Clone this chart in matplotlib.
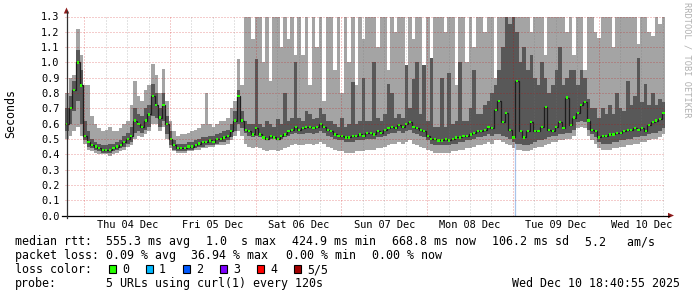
import numpy as np
import matplotlib
matplotlib.use("Agg")
import matplotlib.pyplot as plt
from matplotlib.patches import Rectangle, Polygon
from matplotlib.lines import Line2D

# ---------------- data (1-hour bins from Wed Dec 03 18:40 to Wed Dec 10 18:40) ----------------
med = [0.60,0.70,0.82,1.00,0.85,0.52,0.48,0.46,0.45,0.44,0.43,0.43,0.43,0.44,0.45,0.46,0.48,0.50,0.52,0.62,0.60,0.58,0.62,0.66,
       0.78,0.72,0.64,0.72,0.60,0.50,0.46,0.44,0.44,0.44,0.45,0.45,0.46,0.47,0.48,0.48,0.49,0.48,0.50,0.50,0.51,0.52,0.55,0.62,
       0.78,0.62,0.56,0.55,0.53,0.57,0.53,0.51,0.50,0.52,0.51,0.50,0.52,0.53,0.55,0.56,0.58,0.56,0.57,0.58,0.58,0.57,0.58,0.60,
       0.58,0.56,0.55,0.53,0.52,0.52,0.51,0.51,0.52,0.52,0.53,0.52,0.54,0.54,0.53,0.55,0.54,0.56,0.57,0.58,0.57,0.59,0.58,0.60,
       0.61,0.58,0.57,0.56,0.55,0.52,0.50,0.50,0.49,0.49,0.50,0.49,0.50,0.51,0.51,0.52,0.52,0.53,0.54,0.55,0.55,0.56,0.58,0.57,
       0.69,0.75,0.61,0.67,0.56,0.51,0.88,0.55,0.51,0.55,0.61,0.55,0.55,0.58,0.71,0.56,0.55,0.58,0.61,0.57,0.77,0.59,0.64,0.67,
       0.72,0.74,0.62,0.56,0.55,0.51,0.52,0.52,0.53,0.53,0.54,0.54,0.55,0.56,0.56,0.57,0.56,0.57,0.55,0.59,0.61,0.62,0.63,0.67]

lo = [0.50,0.52,0.55,0.58,0.52,0.47,0.43,0.42,0.41,0.40,0.40,0.40,0.39,0.40,0.41,0.42,0.43,0.45,0.46,0.50,0.52,0.51,0.53,0.55,
      0.60,0.60,0.55,0.58,0.50,0.44,0.42,0.41,0.41,0.41,0.42,0.42,0.43,0.43,0.44,0.44,0.45,0.45,0.46,0.46,0.46,0.47,0.49,0.52,
      0.55,0.52,0.47,0.45,0.44,0.45,0.44,0.43,0.42,0.43,0.43,0.42,0.43,0.44,0.45,0.46,0.47,0.46,0.46,0.47,0.47,0.46,0.47,0.48,
      0.47,0.45,0.44,0.43,0.42,0.42,0.41,0.41,0.41,0.42,0.42,0.42,0.43,0.43,0.43,0.44,0.44,0.45,0.46,0.47,0.47,0.48,0.47,0.48,
      0.49,0.47,0.46,0.45,0.44,0.43,0.42,0.41,0.41,0.41,0.41,0.41,0.42,0.42,0.43,0.43,0.44,0.44,0.45,0.46,0.46,0.47,0.48,0.47,
      0.49,0.49,0.48,0.47,0.46,0.44,0.43,0.43,0.42,0.42,0.43,0.44,0.45,0.45,0.46,0.47,0.48,0.48,0.49,0.49,0.50,0.50,0.52,0.57,
      0.58,0.57,0.52,0.49,0.47,0.44,0.43,0.43,0.43,0.44,0.44,0.45,0.45,0.46,0.46,0.47,0.47,0.48,0.48,0.49,0.50,0.50,0.51,0.53]

q1 = [0.55,0.60,0.68,0.75,0.60,0.49,0.45,0.44,0.43,0.42,0.41,0.41,0.41,0.42,0.43,0.44,0.45,0.47,0.48,0.54,0.55,0.54,0.56,0.58,
      0.65,0.64,0.58,0.62,0.53,0.46,0.43,0.42,0.42,0.42,0.43,0.43,0.44,0.45,0.45,0.46,0.46,0.46,0.47,0.48,0.48,0.49,0.51,0.55,
      0.60,0.57,0.54,0.52,0.51,0.52,0.51,0.50,0.49,0.50,0.50,0.49,0.50,0.51,0.52,0.53,0.54,0.53,0.53,0.54,0.54,0.53,0.54,0.55,
      0.54,0.52,0.51,0.50,0.49,0.49,0.48,0.48,0.48,0.49,0.49,0.49,0.50,0.50,0.50,0.51,0.51,0.52,0.53,0.54,0.54,0.55,0.54,0.55,
      0.56,0.54,0.53,0.52,0.51,0.49,0.47,0.46,0.46,0.46,0.46,0.46,0.47,0.47,0.48,0.48,0.49,0.49,0.50,0.51,0.51,0.52,0.53,0.52,
      0.53,0.53,0.52,0.51,0.50,0.48,0.47,0.47,0.46,0.46,0.47,0.48,0.49,0.49,0.50,0.51,0.52,0.52,0.53,0.53,0.54,0.54,0.56,0.61,
      0.62,0.61,0.56,0.53,0.51,0.48,0.47,0.47,0.47,0.48,0.48,0.49,0.49,0.50,0.50,0.51,0.51,0.52,0.52,0.53,0.54,0.54,0.55,0.57]

q3 = [0.70,0.78,0.88,1.08,0.95,0.62,0.55,0.50,0.48,0.47,0.46,0.46,0.47,0.47,0.48,0.49,0.52,0.54,0.58,0.70,0.66,0.65,0.70,0.72,
      0.86,0.80,0.70,0.80,0.65,0.55,0.49,0.47,0.47,0.47,0.48,0.48,0.49,0.50,0.51,0.51,0.52,0.52,0.53,0.54,0.55,0.56,0.60,0.68,
      0.82,0.68,0.62,0.60,0.60,1.02,0.60,0.58,0.62,0.60,0.58,0.63,0.60,0.80,0.62,0.64,1.00,0.64,0.62,0.68,0.66,0.63,0.64,0.70,
      0.66,0.62,0.62,0.60,0.58,0.64,0.58,0.60,0.87,0.60,0.62,0.90,0.62,0.62,1.00,0.64,0.62,0.66,0.86,0.80,0.64,0.66,0.64,0.98,
      0.70,0.89,1.00,0.66,0.98,0.62,1.03,0.58,0.58,0.90,0.58,0.93,0.60,0.62,1.00,0.62,0.62,0.70,0.95,0.66,0.66,0.72,0.75,0.80,
      0.85,0.95,1.10,1.30,1.25,1.30,1.20,1.00,1.10,0.95,1.05,0.90,0.85,1.00,0.90,0.80,0.85,0.95,1.10,0.85,0.90,0.95,0.95,0.85,
      0.95,0.90,0.76,0.70,0.70,0.64,0.70,0.66,0.72,0.66,0.80,0.70,0.68,0.88,0.72,0.78,1.03,0.74,0.86,0.72,0.80,0.72,0.76,0.74]

hi = [0.80,0.90,0.92,1.22,1.05,0.85,0.85,0.65,0.60,0.57,0.55,0.56,0.58,0.55,0.55,0.57,0.60,0.62,0.72,0.88,0.78,0.75,0.82,0.85,
      0.99,0.92,0.80,0.96,0.75,0.62,0.55,0.52,0.53,0.53,0.54,0.55,0.56,0.57,0.60,0.80,0.60,0.58,0.60,0.62,0.62,0.64,0.70,0.75,
      1.02,0.85,1.30,1.30,1.15,1.30,1.30,1.00,1.30,0.88,1.30,1.30,1.10,1.30,1.15,1.30,1.05,1.30,1.05,1.30,0.85,1.30,1.10,1.30,
      0.75,1.30,1.30,0.95,1.30,0.80,1.30,1.00,1.30,0.85,1.30,1.15,1.30,1.30,1.30,1.10,1.30,1.30,0.95,1.30,1.20,1.30,1.30,0.90,
      1.30,1.15,1.30,1.30,0.90,1.30,1.00,1.30,1.30,1.30,1.20,1.30,1.30,0.85,1.30,1.30,1.00,1.30,1.10,1.30,1.30,1.20,1.30,1.30,
      0.90,1.30,1.30,1.30,1.30,1.30,1.30,1.30,1.30,1.30,1.20,1.30,1.30,1.30,1.05,1.30,1.30,1.30,1.30,1.30,1.20,1.30,1.05,1.30,
      1.30,0.95,1.30,1.30,1.20,1.16,1.30,1.30,1.30,1.10,1.30,1.30,1.30,1.30,1.30,1.30,1.12,1.30,1.30,1.20,1.17,1.30,1.25,1.30]

vrule_hour = 125.9      # thin marker line (hours from start)
vrule_top = 0.47

first_midnight = 5 + 20 / 60          # hours from Dec 03 18:40 to Dec 04 00:00
day_labels = ["Thu 04 Dec", "Fri 05 Dec", "Sat 06 Dec", "Sun 07 Dec", "Mon 08 Dec", "Tue 09 Dec", "Wed 10 Dec"]
y_ticks = [0.0, 0.1, 0.2, 0.3, 0.4, 0.5, 0.6, 0.7, 0.8, 0.9, 1.0, 1.1, 1.2, 1.3]
y_tick_labels = ["0.0", "0.1", "0.2", "0.3", "0.4", "0.5", "0.6", "0.7", "0.8", "0.9", "1.0", "1.1", "1.2", "1.3"]

legend_line1 = [("median rtt:", 16), ("555.3 ms avg", 107), ("1.0  s max", 207), ("424.9 ms min", 293),
                ("668.8 ms now", 393), ("106.2 ms sd", 493), ("5.2   am/s", 586)]
legend_line2 = [("packet loss:", 16), ("0.09 % avg", 107), ("36.94 % max", 192), ("0.00 % min", 287),
                ("0.00 % now", 373)]
loss_labels = ["0", "1", "2", "3", "4", "5/5"]
loss_colors = ["#26ff00", "#00b8ff", "#0059ff", "#7e00ff", "#ff0000", "#a10000"]
probe_text = "5 URLs using curl(1) every 120s"
stamp_text = "Wed Dec 10 18:40:55 2025"

# ---------------- figure ----------------
W, H = 697, 297
fig = plt.figure(figsize=(W / 100, H / 100), dpi=100)
fig.patch.set_facecolor("white")
MONO = "DejaVu Sans Mono"

def fx(px):
    return px / W

def fy(py):
    return 1 - py / H

X0, X1, YB, YT = 65.3, 665.3, 215.5, 16.5
ax = fig.add_axes([fx(X0), fy(YB), (X1 - X0) / W, (YB - YT) / H])
n = len(med)
edges = np.arange(n + 1)
ax.set_xlim(0, n)
ax.set_ylim(0, 1.3)
for s in ax.spines.values():
    s.set_visible(False)

LIGHT, DARK, MEDC, GREEN = "#a4a4a4", "#585858", "#1e1e1e", "#26ff00"
ax.stairs(hi, edges, baseline=lo, fill=True, color=LIGHT, lw=0, zorder=1)
ax.stairs(q3, edges, baseline=q1, fill=True, color=DARK, lw=0, zorder=2)
ax.stairs(med, edges, baseline=None, color=MEDC, lw=0.9, zorder=3)
med_a = np.array(med)
ax.bar(edges[:-1] + 0.5, 0.015, bottom=med_a - 0.0075, width=0.6, color=GREEN, lw=0, zorder=4)

ax.plot([vrule_hour, vrule_hour], [0, vrule_top], color="#a9c4ea", lw=0.9, zorder=3)

# grid (drawn over the smoke, like rrdtool)
GRID_MAJ = (0.8, 0.0, 0.0, 0.4)
GRID_MIN = (0.45, 0.45, 0.45, 0.4)
for y in y_ticks[1:]:
    ax.axhline(y, color=GRID_MAJ, lw=0.72, dashes=(1, 2), zorder=5)
k = 0
while first_midnight + 6 * k < n:
    xv = first_midnight + 6 * k
    ax.axvline(xv, color=GRID_MAJ if k % 4 == 0 else GRID_MIN, lw=0.72, dashes=(1, 2), zorder=5)
    k += 1

ax.set_yticks(y_ticks)
ax.set_yticklabels(y_tick_labels, fontfamily=MONO, fontsize=7.4)
ax.set_xticks([first_midnight + 12 + 24 * d for d in range(len(day_labels))])
ax.set_xticklabels(day_labels, fontfamily=MONO, fontsize=7.4)
ax.tick_params(axis="y", length=0, pad=4.2, colors="black")
ax.tick_params(axis="x", length=0, pad=3.0, colors="black")

# axis lines and arrows
fig.add_artist(Line2D([fx(62), fx(669)], [fy(215.5), fy(215.5)], color="black", lw=0.9))
fig.add_artist(Line2D([fx(66.5), fx(66.5)], [fy(218), fy(11)], color="#303030", lw=0.9))
ARROW = "#8e1b1b"
fig.add_artist(Polygon([(fx(63.8), fy(13.5)), (fx(69.2), fy(13.5)), (fx(66.5), fy(7.5))],
                       closed=True, color=ARROW, lw=0))
fig.add_artist(Polygon([(fx(668), fy(212.8)), (fx(668), fy(218.2)), (fx(674), fy(215.5))],
                       closed=True, color=ARROW, lw=0))

# y label and watermark
fig.text(fx(11), fy(114), "Seconds", rotation=90, ha="center", va="center",
         fontfamily=MONO, fontsize=8.4, color="black")
fig.text(fx(687.5), fy(60), "RRDTOOL / TOBI OETIKER", rotation=270, ha="center", va="center",
         fontfamily=MONO, fontsize=6.2, color="#b0b0b0")

# legend
FS = 8.4
for txt, x in legend_line1:
    fig.text(fx(x - 0.8), fy(245.3), txt, fontfamily=MONO, fontsize=FS, va="baseline", ha="left")
for txt, x in legend_line2:
    fig.text(fx(x - 0.8), fy(259.3), txt, fontfamily=MONO, fontsize=FS, va="baseline", ha="left")
fig.text(fx(16 - 0.8), fy(273.3), "loss color:", fontfamily=MONO, fontsize=FS, va="baseline", ha="left")
for j, (lab, col) in enumerate(zip(loss_labels, loss_colors)):
    bx = 108.5 + 37 * j
    fig.add_artist(Rectangle((fx(bx), fy(273)), 7.5 / W, 8 / H, facecolor=col, edgecolor="black", lw=0.8))
    fig.text(fx(bx + 13.5), fy(273.3), lab, fontfamily=MONO, fontsize=FS, va="baseline", ha="left")
fig.text(fx(16 - 0.8), fy(287.3), "probe:", fontfamily=MONO, fontsize=FS, va="baseline", ha="left")
fig.text(fx(107 - 0.8), fy(287.3), probe_text, fontfamily=MONO, fontsize=FS, va="baseline", ha="left")
fig.text(fx(513.3 - 0.8), fy(287.3), stamp_text, fontfamily=MONO, fontsize=FS, va="baseline", ha="left")

fig.savefig("out.png", dpi=100, facecolor="white")
